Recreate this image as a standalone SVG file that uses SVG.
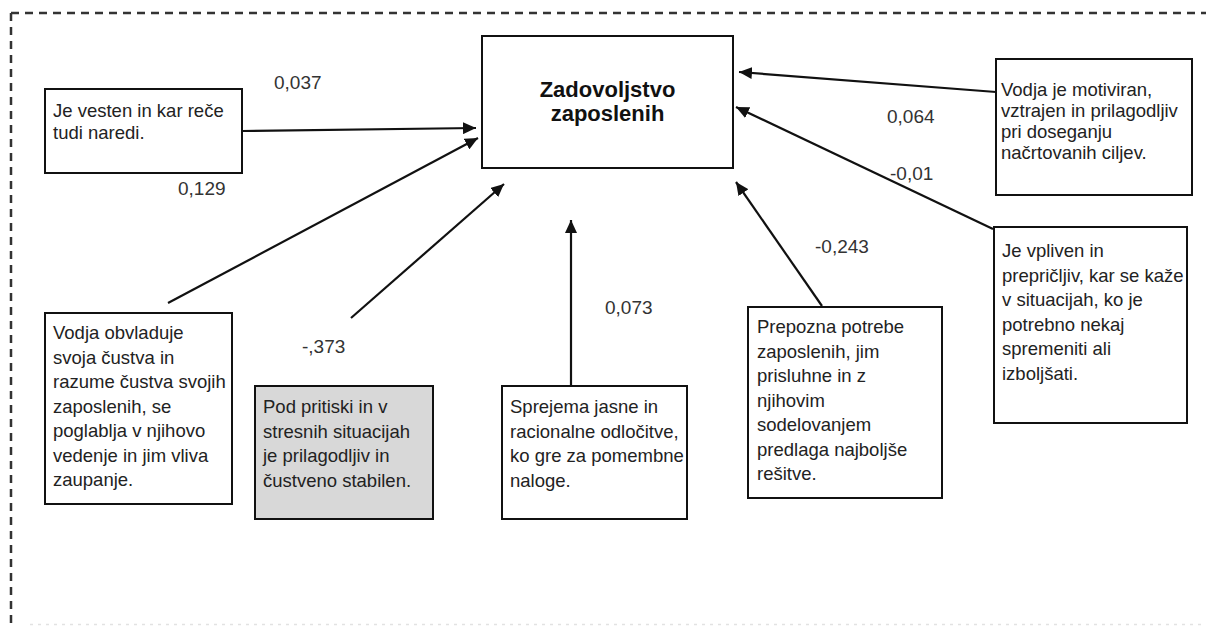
<svg xmlns="http://www.w3.org/2000/svg" width="1206" height="626" viewBox="0 0 1206 626">
<style>
.box{fill:#fff;stroke:#111;stroke-width:2}
.gray{fill:#d8d8d8;stroke:#111;stroke-width:2}
.t{font-family:"Liberation Sans",Arial,sans-serif;font-size:18.5px;fill:#222}
.lbl{font-family:"Liberation Sans",Arial,sans-serif;font-size:19px;fill:#333}
.title{font-family:"Liberation Sans",Arial,sans-serif;font-size:22px;font-weight:bold;fill:#111;text-anchor:middle}
.con{stroke:#111;stroke-width:2.2;fill:none;marker-end:url(#ah)}
.border{stroke:#333;stroke-width:2.5;fill:none;stroke-dasharray:8 6}
</style>
<defs>
<marker id="ah" markerUnits="userSpaceOnUse" markerWidth="14" markerHeight="12" refX="13" refY="6" orient="auto">
<path d="M0,0 L13,6 L0,12 z" fill="#111"/>
</marker>
</defs>
<rect width="1206" height="626" fill="#fff"/>
<g id="frame">
<path class="border" d="M11,13 H1206"/>
<path class="border" d="M11,13 V626"/>
<path d="M30,624.5 H1206" stroke="#e2e2e2" stroke-width="1.5" stroke-dasharray="3 5" fill="none"/>
</g>
<g id="connectors">
<line class="con" x1="242" y1="131" x2="476" y2="128"/>
<line class="con" x1="168" y1="303" x2="478" y2="138"/>
<line class="con" x1="351" y1="318" x2="504" y2="184"/>
<line class="con" x1="571" y1="386" x2="571" y2="220"/>
<line class="con" x1="822" y1="306" x2="736" y2="182"/>
<line class="con" x1="993" y1="229" x2="736" y2="107"/>
<line class="con" x1="996" y1="92" x2="739" y2="72"/>
</g>
<g id="labels">
<text class="lbl" x="274" y="89">0,037</text>
<text class="lbl" x="178" y="195">0,129</text>
<text class="lbl" x="887" y="123">0,064</text>
<text class="lbl" x="890" y="180">-0,01</text>
<text class="lbl" x="815" y="253">-0,243</text>
<text class="lbl" x="605" y="314">0,073</text>
<text class="lbl" x="302" y="353">-,373</text>
</g>
<g id="center">
<rect class="box" x="482" y="36" width="251" height="132"/>
<text class="title" x="607.5" y="97">Zadovoljstvo</text>
<text class="title" x="607.5" y="121">zaposlenih</text>
</g>
<g id="n1">
<rect class="box" x="45" y="89" width="197" height="84"/>
<text class="t" x="53" y="117">Je vesten in kar reče</text>
<text class="t" x="53" y="139">tudi naredi.</text>
</g>
<g id="n2">
<rect class="box" x="996" y="59" width="196" height="136"/>
<text class="t" x="1001" y="96">Vodja je motiviran,</text>
<text class="t" x="1001" y="117">vztrajen in prilagodljiv</text>
<text class="t" x="1001" y="138">pri doseganju</text>
<text class="t" x="1001" y="159">načrtovanih ciljev.</text>
</g>
<g id="n3">
<rect class="box" x="994" y="227" width="193" height="196"/>
<text class="t" x="1002" y="257">Je vpliven in</text>
<text class="t" x="1002" y="281.5">prepričljiv, kar se kaže</text>
<text class="t" x="1002" y="306">v situacijah, ko je</text>
<text class="t" x="1002" y="330.5">potrebno nekaj</text>
<text class="t" x="1002" y="355">spremeniti ali</text>
<text class="t" x="1002" y="379.5">izboljšati.</text>
</g>
<g id="n4">
<rect class="box" x="45" y="313" width="187" height="191"/>
<text class="t" x="53" y="339">Vodja obvladuje</text>
<text class="t" x="53" y="363.5">svoja čustva in</text>
<text class="t" x="53" y="388">razume čustva svojih</text>
<text class="t" x="53" y="412.5">zaposlenih, se</text>
<text class="t" x="53" y="437">poglablja v njihovo</text>
<text class="t" x="53" y="461.5">vedenje in jim vliva</text>
<text class="t" x="53" y="486">zaupanje.</text>
</g>
<g id="n5">
<rect class="gray" x="255" y="386" width="178" height="133"/>
<text class="t" x="263" y="413">Pod pritiski in v</text>
<text class="t" x="263" y="437.5">stresnih situacijah</text>
<text class="t" x="263" y="462">je prilagodljiv in</text>
<text class="t" x="263" y="486.5">čustveno stabilen.</text>
</g>
<g id="n6">
<rect class="box" x="502" y="386" width="185" height="133"/>
<text class="t" x="510" y="413">Sprejema jasne in</text>
<text class="t" x="510" y="437.5">racionalne odločitve,</text>
<text class="t" x="510" y="462">ko gre za pomembne</text>
<text class="t" x="510" y="486.5">naloge.</text>
</g>
<g id="n7">
<rect class="box" x="748" y="307" width="194" height="191"/>
<text class="t" x="757" y="333">Prepozna potrebe</text>
<text class="t" x="757" y="357.5">zaposlenih, jim</text>
<text class="t" x="757" y="382">prisluhne in z</text>
<text class="t" x="757" y="406.5">njihovim</text>
<text class="t" x="757" y="431">sodelovanjem</text>
<text class="t" x="757" y="455.5">predlaga najboljše</text>
<text class="t" x="757" y="480">rešitve.</text>
</g>
</svg>
